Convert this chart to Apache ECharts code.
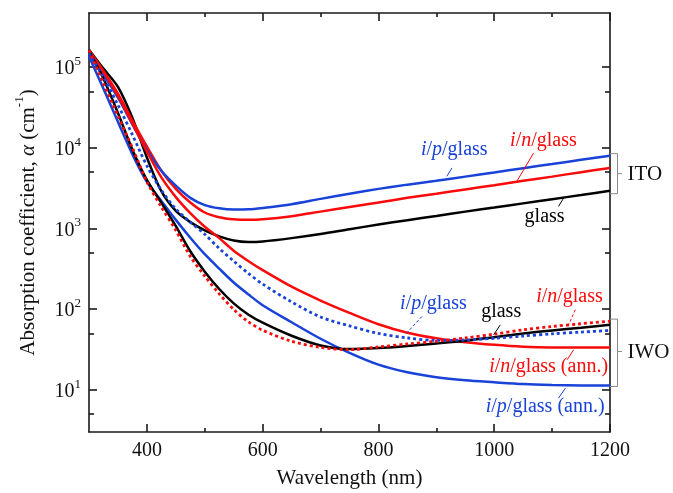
<!DOCTYPE html>
<html><head><meta charset="utf-8">
<script src="https://cdn.jsdelivr.net/npm/echarts@6/dist/echarts.min.js"></script>
<style>html,body{margin:0;padding:0;background:#fff}#c{width:673px;height:493px}</style>
</head><body><div id="c"></div>
<script>
// ---- data (wavelength in nm, absorption coefficient in cm^-1) ----
const wavelengths = [300,325,350,375,400,425,450,475,500,525,550,575,600,650,700,750,800,850,900,950,1000,1050,1100,1150,1200];
// ITO films
const itoGlass = [1.65e5,9.6e4,5.7e4,2.35e4,7.6e3,2.9e3,1.65e3,1.2e3,950,800,710,680,690,760,855,980,1.12e3,1.27e3,1.43e3,1.62e3,1.82e3,2.05e3,2.31e3,2.6e3,2.94e3];
const itoNGlass = [1.6e5,9.0e4,4.7e4,2.18e4,1.04e4,5.2e3,3.1e3,2.1e3,1.58e3,1.38e3,1.3e3,1.28e3,1.3e3,1.42e3,1.62e3,1.85e3,2.1e3,2.4e3,2.7e3,3.05e3,3.44e3,3.9e3,4.4e3,5.0e3,5.64e3];
const itoPGlass = [1.4e5,8.0e4,4.2e4,1.96e4,9.4e3,5.2e3,3.4e3,2.4e3,1.95e3,1.78e3,1.72e3,1.73e3,1.8e3,2.0e3,2.33e3,2.7e3,3.1e3,3.5e3,3.9e3,4.4e3,4.95e3,5.6e3,6.3e3,7.1e3,8.0e3];
// IWO films
const iwoGlass = [1.6e5,7.2e4,2.7e4,9.5e3,4.0e3,2.08e3,1.07e3,522,292,178,118,86,68,46.8,35.5,32,33,35,37.5,40.5,45,50,54.5,59,64];
const iwoNGlass = [1.62e5,6.3e4,2.5e4,1.0e4,3.8e3,1.85e3,950,451,257,155,99,70,54.7,40,33.5,31.5,34,37,40,44,49,55.5,61,66,71];
const iwoPGlass = [1.5e5,7.5e4,3.4e4,1.45e4,6.0e3,3.0e3,1.75e3,1.2e3,848,566,394,279,205,123,80,62,50,44,41,41.5,43.5,46.5,49.5,52,54.5];
const iwoNGlassAnn = [1.62e5,8.7e4,4.4e4,2.0e4,9.0e3,4.3e3,2.45e3,1.55e3,1.05e3,760,530,396,305,190,128,90,65,51,43.5,39,36.2,34.3,33.5,33.4,33.4];
const iwoPGlassAnn = [1.36e5,5.4e4,2.1e4,8.3e3,3.78e3,2.2e3,1.28e3,769,480,318,214,153,112,68.8,43,28.7,20.5,16.5,14.3,13.1,12.4,11.8,11.5,11.35,11.3];
// tick values
const xMajorTicks = [400,600,800,1000,1200];
const xMinorTicks = [500,700,900,1100];
const yMajorTicks = [10,100,1000,10000,100000];
const yMinorTicks = [5,50,500,5000,50000];

// ---- styling ----
const FONT = 'Liberation Serif';
const BLUE = '#1842d8', RED = '#fa0a0a', BLACK = '#000000';
const AX = {color:'#1a1a1a', width:1.6};

function pairs(ys){ return wavelengths.map((x,i)=>[x, ys[i]]); }
function line(name, ys, color, dotted){
  return {name, type:'line', data:pairs(ys), xAxisIndex:0, yAxisIndex:0,
    showSymbol:false, symbol:'none', smooth:0.3, silent:true,
    lineStyle:{color, width:dotted?2.8:2.5, type:dotted?[3,3]:'solid', cap:'butt'},
    itemStyle:{color}};
}
function xAx(pos, ticks, len, withLine, withLabel){
  return {type:'value', position:pos, min:300, max:1200,
    axisLine:{show:withLine, onZero:false, lineStyle:AX},
    axisTick:{show:true, inside:true, length:len, customValues:ticks, lineStyle:AX},
    axisLabel:withLabel?{show:true, customValues:ticks, formatter:v=>String(v), fontFamily:FONT, fontSize:20, color:'#111', margin:9}:{show:false},
    splitLine:{show:false}};
}
function yAx(pos, ticks, len, withLine, withLabel){
  return {type:'log', logBase:10, position:pos, min:3, max:4.7e5,
    axisLine:{show:withLine, onZero:false, lineStyle:AX},
    axisTick:{show:true, inside:true, length:len, customValues:ticks, lineStyle:AX},
    axisLabel:withLabel?{show:true, customValues:ticks, margin:8,
      formatter:v=>'{b|10}{s|'+Math.round(Math.log10(v))+'}',
      rich:{b:{fontFamily:FONT,fontSize:20,color:'#111',lineHeight:24,verticalAlign:'bottom'},
            s:{fontFamily:FONT,fontSize:13,color:'#111',lineHeight:15,verticalAlign:'top'}}}:{show:false},
    splitLine:{show:false}};
}

const xs = [xAx('bottom',xMajorTicks,8,true,true), xAx('bottom',xMinorTicks,4,false,false),
            xAx('top',xMajorTicks,8,true,false), xAx('top',xMinorTicks,4,false,false)];
xs[0].name = 'Wavelength (nm)';
xs[0].nameLocation = 'middle';
xs[0].nameGap = 36;
xs[0].nameTextStyle = {fontFamily:FONT, fontSize:21, color:'#111'};
const ys = [yAx('left',yMajorTicks,8,true,true), yAx('right',yMajorTicks,8,true,false),
            yAx('left',yMinorTicks,5,false,false), yAx('right',yMinorTicks,5,false,false)];
ys[0].name = '{n|Absorption coefficient, }{i|α}{n| (cm}{s|-1}{n|)}';
ys[0].nameLocation = 'middle';
ys[0].nameRotate = 90;
ys[0].nameGap = 50;
ys[0].nameTextStyle = {fontFamily:FONT, fontSize:21, color:'#111', rich:{
  n:{fontFamily:FONT,fontSize:21,color:'#111',lineHeight:26,verticalAlign:'bottom'},
  i:{fontFamily:FONT,fontSize:21,fontStyle:'italic',color:'#111',lineHeight:26,verticalAlign:'bottom'},
  s:{fontFamily:FONT,fontSize:13,color:'#111',lineHeight:15,verticalAlign:'top'}}};

const chart = echarts.init(document.getElementById('c'), null, {renderer:'canvas'});
chart.setOption({
  animation:false,
  backgroundColor:'#ffffff',
  grid:{left:89, right:63, top:13, bottom:61, containLabel:false, outerBoundsMode:'none'},
  xAxis:xs, yAxis:ys,
  series:[
    line('ITO glass', itoGlass, BLACK),
    line('ITO i/n/glass', itoNGlass, RED),
    line('ITO i/p/glass', itoPGlass, BLUE),
    line('IWO i/n/glass (ann.)', iwoNGlassAnn, RED),
    line('IWO i/p/glass (ann.)', iwoPGlassAnn, BLUE),
    line('IWO glass', iwoGlass, BLACK),
    line('IWO i/p/glass', iwoPGlass, BLUE, true),
    line('IWO i/n/glass', iwoNGlass, RED, true)
  ]
});

// ---- annotations (anchored in data coordinates) ----
const IP = '{i|i}{n|/}{i|p}{n|/glass}';
const IN = '{i|i}{n|/}{i|n}{n|/glass}';
const annotations = [
  {text:IP, color:BLUE, at:[931,9500], leader:[[927,5640],[918,4430]], dash:false},
  {text:IN, color:RED, at:[1085,12360], leader:[[1068,8650],[1039,3840]], dash:false},
  {text:'{n|glass}', color:BLACK, at:[1087,1400], leader:[[1120,2390],[1111,1880]], dash:false},
  {text:IP, color:BLUE, at:[895,117], leader:[[875,81.1],[846,48.1]], dash:true},
  {text:'{n|glass}', color:BLACK, at:[1012,92.9], leader:[[1010.5,64],[999,48.1]], dash:false},
  {text:IN, color:RED, at:[1130,140.6], leader:[[1140,98.4],[1128.5,64]], dash:true},
  {text:IN+'{n| (ann.)}', color:RED, at:[1094,19.5], leader:[[1137,31.3],[1126,23.6]], dash:false},
  {text:IP+'{n| (ann.)}', color:BLUE, at:[1088,6.21], leader:[[1123,10.5],[1111,7.89]], dash:false}
];
const groups = [
  {name:'ITO', top:8470, bottom:2700, mid:4790},
  {name:'IWO', top:75.3, bottom:11.0, mid:29.9}
];
const P = (x,y)=>chart.convertToPixel({xAxisIndex:0, yAxisIndex:0}, [x,y]);
const gfx = [];
annotations.forEach(a=>{
  const p = P(a.at[0], a.at[1]);
  gfx.push({type:'text', x:p[0], y:p[1], z:100, style:{text:a.text, align:'center', verticalAlign:'middle',
    fill:a.color, font:'20px "'+FONT+'"',
    rich:{i:{fill:a.color,fontFamily:FONT,fontSize:20,fontStyle:'italic'}, n:{fill:a.color,fontFamily:FONT,fontSize:20}}}});
  const l1 = P(a.leader[0][0], a.leader[0][1]), l2 = P(a.leader[1][0], a.leader[1][1]);
  gfx.push({type:'line', z:100, shape:{x1:l1[0],y1:l1[1],x2:l2[0],y2:l2[1]},
    style:{stroke:a.color, lineWidth:1, lineDash:a.dash?[3,2]:null}});
});
groups.forEach(g=>{
  const right = P(1200, g.top)[0];
  const yt = P(1200, g.top)[1], yb = P(1200, g.bottom)[1], ym = P(1200, g.mid)[1];
  const xv = right + 7.5;
  gfx.push({type:'polyline', z:100, shape:{points:[[right,yt],[xv,yt],[xv,yb],[right,yb]]},
    style:{stroke:'#8a8a8a', lineWidth:1, fill:null}});
  gfx.push({type:'line', z:100, shape:{x1:xv,y1:ym,x2:xv+4.5,y2:ym}, style:{stroke:'#8a8a8a', lineWidth:1}});
  gfx.push({type:'text', x:xv+10, y:ym+1, z:100, style:{text:g.name, align:'left', verticalAlign:'middle',
    fill:'#111', font:'21px "'+FONT+'"'}});
});
chart.setOption({graphic:gfx});
</script>
</body></html>
